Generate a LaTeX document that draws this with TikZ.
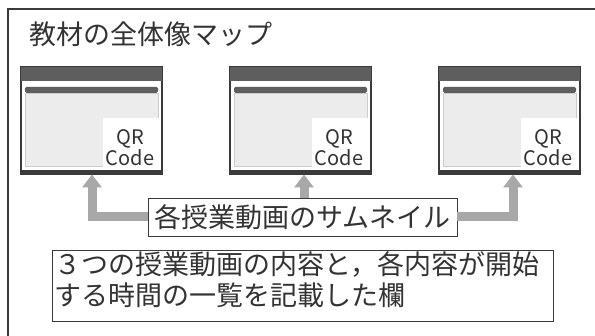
\documentclass[tikz,border=0pt]{standalone}
\usepackage{fontspec}
\setmainfont{Noto Sans CJK JP}
\usetikzlibrary{arrows.meta,calc}
\definecolor{ink}{HTML}{333333}
\definecolor{bardark}{HTML}{5E5E5E}
\definecolor{framec}{HTML}{3A3A3A}
\definecolor{lightarea}{HTML}{ECECEC}
\definecolor{arrowc}{HTML}{A8A8A8}
\tikzset{
  win/.style={draw=framec, line width=1.3pt, fill=white, minimum width=141pt, minimum height=107pt, inner sep=0pt},
  arr/.style={draw=arrowc, line width=9pt, -{Triangle[width=19pt,length=13pt]}},
  labelbox/.style={draw=framec, line width=0.8pt, fill=white, text=ink, inner sep=2pt},
  bigtext/.style={text=ink, font=\fontsize{27}{31}\selectfont},
  qrtext/.style={text=ink, font=\fontsize{20}{21}\selectfont, align=center, inner sep=0pt},
}
\begin{document}
\begin{tikzpicture}[x=1pt,y=1pt]
\useasboundingbox (0,0) rectangle (595,336);
% outer frame (cut off on right and bottom)
\draw[framec, line width=1.3pt] (8,-2) -- (8,327) -- (597,327);
% title
\node[bigtext, anchor=base west, inner sep=0pt] (title) at (29,291) {教材の全体像マップ};
% windows
\foreach \i/\x in {1/21,2/230,3/439} {
  \node[win] (w\i) at (\x+70.5,215.5) {};
  \fill[bardark] (\x,269) rectangle (\x+141,255);
  \fill[framec] (\x,162) rectangle (\x+141,166);
  \fill[lightarea, draw=white!80!black, line width=0.5pt] (\x+4,243) rectangle (\x+137,170);
  \fill[bardark, rounded corners=1.5pt] (\x+4,249) rectangle (\x+137,243);
  \fill[white] (\x+82,218) rectangle (\x+138,167);
  \node[qrtext] (qr\i) at (\x+109,188) {QR\\Code};
  \draw[framec, line width=1.3pt] (w\i.north west) rectangle (w\i.south east);
}
% thumbnail label
\node[labelbox, bigtext, minimum width=309pt, minimum height=38pt] (thumb) at (302.5,119) {各授業動画のサムネイル};
% arrow targets
\coordinate (t1) at (92,161.5);
\coordinate (t2) at (304,161.5);
\coordinate (t3) at (513,161.5);
\draw[arr] (thumb.west) -| (t1);
\draw[arr] (thumb.north -| t2) -- (t2);
\draw[arr] (thumb.east) -| (t3);
% bottom box
\node[labelbox, minimum width=501pt, minimum height=71pt] (list) at (302.5,50.5) {};
\node[bigtext, anchor=base west, align=left, inner sep=0pt] (listtext) at (54,30) {３つの授業動画の内容と，各内容が開始\\する時間の一覧を記載した欄};
\end{tikzpicture}
\end{document}
